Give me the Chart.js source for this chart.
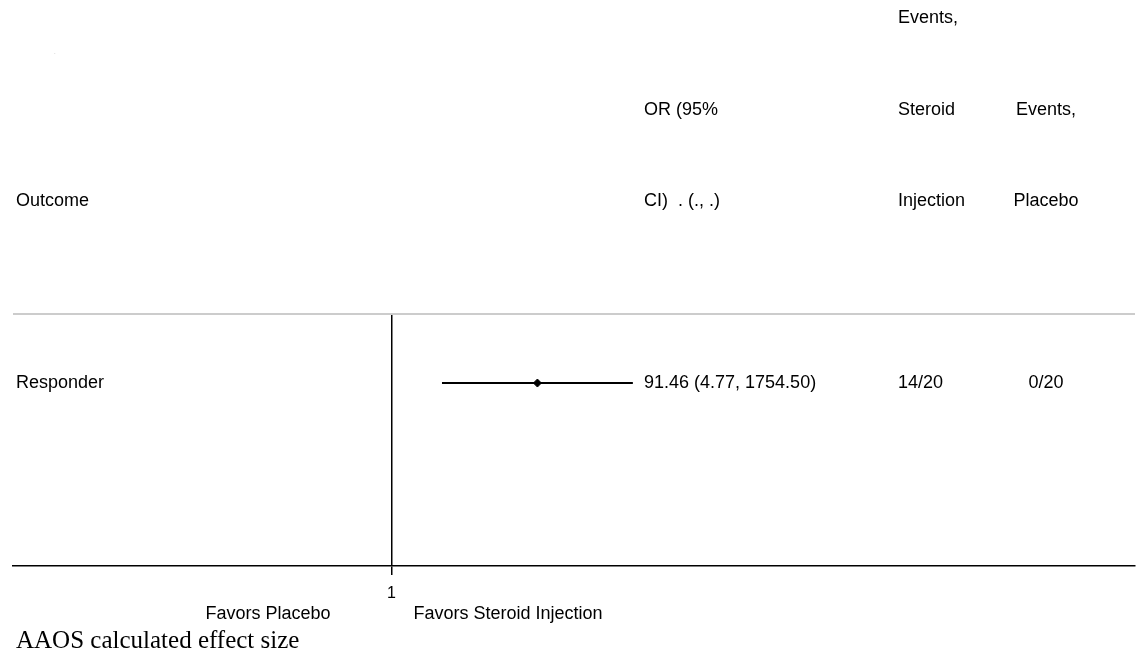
<!DOCTYPE html>
<html>
<head>
<meta charset="utf-8">
<script src="https://cdn.jsdelivr.net/npm/chart.js@4"></script>
<style>
html, body { margin: 0; padding: 0; background: #fff; overflow: hidden; }
#wrap { width: 1140px; height: 659px; position: relative; }
</style>
</head>
<body>
<div id="wrap"><canvas id="forest-plot"></canvas></div>
<script>
// Forest plot data
const outcomes = ['Responder'];
const oddsRatios = [91.46];
const ciLower = [4.77];
const ciUpper = [1754.50];
const eventsSteroid = ['14/20'];
const eventsPlacebo = ['0/20'];
const xTicks = [1];

// Column headers (three stacked lines each)
const headerOutcome = ['', '', 'Outcome'];
const headerOR = ['', 'OR (95%', 'CI)  . (., .)'];
const headerSteroid = ['Events,', 'Steroid', 'Injection'];
const headerPlacebo = ['', 'Events,', 'Placebo'];
const favorsLabels = ['Favors Placebo', 'Favors Steroid Injection'];
const footnote = 'AAOS calculated effect size';

const SANS = '"Liberation Sans", Arial, sans-serif';
const SERIF = '"Liberation Serif", "Times New Roman", serif';

// where the null line sits and how wide one decade of the log axis is
const NULL_PX = 391.5;
const PX_PER_DECADE = 74.4;

const ciDatasets = outcomes.map((name, i) => ({
    label: name + ' CI',
    data: [{ x: ciLower[i], y: i + 1 }, { x: ciUpper[i], y: i + 1 }],
    showLine: true,
    borderColor: '#000',
    borderWidth: 2,
    pointRadius: 0
}));

const pointDataset = {
    label: 'OR',
    data: outcomes.map((name, i) => ({ x: oddsRatios[i], y: i + 1 })),
    pointStyle: 'rectRot',
    pointRadius: 4,
    backgroundColor: '#000',
    borderColor: '#000',
    borderWidth: 1
};

// fit the log axis range to the final chart area
const axisRangePlugin = {
    id: 'axisRange',
    afterLayout(chart) {
        const xs = chart.scales.x;
        xs.min = Math.pow(10, -(NULL_PX - xs.left) / PX_PER_DECADE);
        xs.max = Math.pow(10, (xs.right - NULL_PX) / PX_PER_DECADE);
        xs.configure();
    }
};

// Text columns drawn next to the plot
const tablePlugin = {
    id: 'forestTable',
    afterDraw(chart) {
        const ctx = chart.ctx;
        const xs = chart.scales.x;
        const ys = chart.scales.y;
        ctx.save();
        ctx.fillStyle = '#000';
        ctx.textBaseline = 'middle';
        ctx.font = '18px ' + SANS;

        const headerY = [18, 110, 201];
        headerY.forEach((y, k) => {
            ctx.textAlign = 'left';
            ctx.fillText(headerOutcome[k], 16, y);
            ctx.fillText(headerOR[k], 644, y);
            ctx.fillText(headerSteroid[k], 898, y);
            ctx.textAlign = 'center';
            ctx.fillText(headerPlacebo[k], 1046, y);
        });

        outcomes.forEach((name, i) => {
            const y = ys.getPixelForValue(i + 1);
            ctx.textAlign = 'left';
            ctx.fillText(name, 16, y);
            ctx.fillText(oddsRatios[i].toFixed(2) + ' (' + ciLower[i].toFixed(2) + ', ' + ciUpper[i].toFixed(2) + ')', 644, y);
            ctx.fillText(eventsSteroid[i], 898, y);
            ctx.textAlign = 'center';
            ctx.fillText(eventsPlacebo[i], 1046, y);
        });

        // favors labels under the axis
        const x1 = xs.getPixelForValue(1);
        ctx.textAlign = 'right';
        ctx.fillText(favorsLabels[0], x1 - 61, 614);
        ctx.textAlign = 'left';
        ctx.fillText(favorsLabels[1], x1 + 22, 614);

        // stray dot in the corner
        ctx.fillStyle = '#999';
        ctx.font = '6px ' + SANS;
        ctx.fillText('.', 54, 52);

        ctx.fillStyle = '#000';
        ctx.font = '25px ' + SERIF;
        ctx.fillText(footnote, 16, 641);
        ctx.restore();
    }
};

const forestCtx = document.getElementById('forest-plot').getContext('2d');
const forestChart = new Chart(forestCtx, {
    type: 'scatter',
    data: {
        datasets: [...ciDatasets, pointDataset]
    },
    options: {
        responsive: true,
        maintainAspectRatio: false,
        animation: false,
        layout: {
            padding: { top: 314, left: 13, right: 0, bottom: 0 }
        },
        plugins: {
            legend: { display: false },
            tooltip: { enabled: false }
        },
        scales: {
            x: {
                type: 'logarithmic',
                min: 1e-5,
                max: 1e10,
                afterBuildTicks: function(scale) {
                    scale.ticks = xTicks.map(v => ({ value: v }));
                },
                afterFit: function(scale) {
                    scale.height = 93;
                },
                ticks: {
                    callback: function(value) { return String(value); },
                    color: '#000',
                    font: { family: SANS, size: 16 },
                    padding: 9,
                    maxRotation: 0,
                    autoSkip: false
                },
                grid: {
                    color: '#000',
                    lineWidth: 1.5,
                    tickLength: 9
                },
                border: { color: '#000', width: 1.5 }
            },
            y: {
                type: 'linear',
                reverse: true,
                min: 0,
                max: 3.65,
                afterBuildTicks: function(scale) {
                    scale.ticks = [{ value: 0 }];
                },
                afterFit: function(scale) {
                    scale.width = 0;
                },
                ticks: { display: false },
                grid: {
                    color: '#cccccc',
                    lineWidth: 2,
                    drawTicks: false
                },
                border: { display: false }
            }
        }
    },
    plugins: [axisRangePlugin, tablePlugin]
});
</script>
</body>
</html>
